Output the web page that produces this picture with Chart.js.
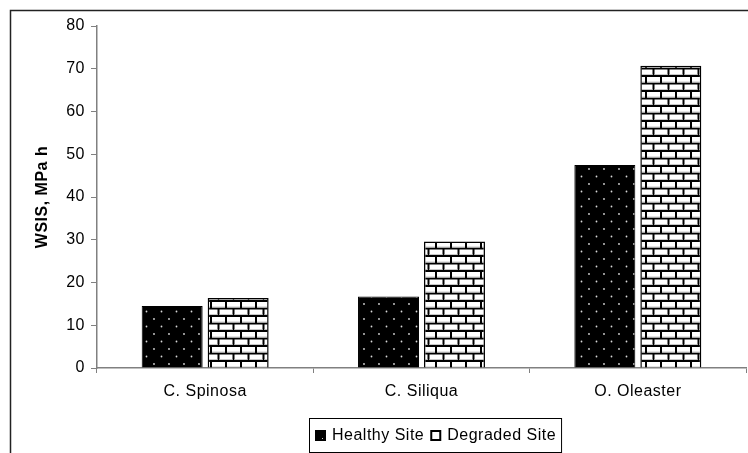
<!DOCTYPE html>
<html>
<head>
<meta charset="utf-8">
<script src="https://cdn.jsdelivr.net/npm/chart.js@4"></script>
<style>
  html, body { margin: 0; padding: 0; background: #fff; }
  #wrap { position: relative; width: 748px; height: 453px; }
</style>
</head>
<body>
<div id="wrap"><canvas id="c" width="748" height="453"></canvas></div>
<script>
const categories = ['C. Spinosa', 'C. Siliqua', 'O. Oleaster'];
const seriesNames = ['Healthy Site', 'Degraded Site'];
const healthy = [14.5, 16.7, 47.5];
const degraded = [16.4, 29.6, 70.7];
const yTicks = [0, 10, 20, 30, 40, 50, 60, 70, 80];
const yTitle = 'WSIS, MPa h';

const FONT = '"Liberation Sans", Arial, sans-serif';
const SPACING = '0.5px';

function dotPattern() {
  const c = document.createElement('canvas');
  c.width = 15; c.height = 15;
  const g = c.getContext('2d');
  g.fillStyle = '#000'; g.fillRect(0, 0, 15, 15);
  g.fillStyle = '#d8d8d8';
  g.beginPath(); g.arc(4, 4, 0.9, 0, Math.PI * 2); g.fill();
  g.beginPath(); g.arc(11.5, 11.5, 0.9, 0, Math.PI * 2); g.fill();
  return document.getElementById('c').getContext('2d').createPattern(c, 'repeat');
}
function brickPattern() {
  const c = document.createElement('canvas');
  c.width = 15; c.height = 15;
  const g = c.getContext('2d');
  g.fillStyle = '#000'; g.fillRect(0, 0, 15, 15);
  const brick = (x, y) => {
    g.fillStyle = '#fff'; g.fillRect(x, y, 13, 5.5);
    g.fillStyle = '#c8c8c8'; g.fillRect(x, y + 4.5, 13, 1);
  };
  brick(2, 2);
  brick(-5.5, 9.5);
  brick(9.5, 9.5);
  return document.getElementById('c').getContext('2d').createPattern(c, 'repeat');
}

const framePlugin = {
  id: 'frame',
  beforeDraw(chart) {
    const ctx = chart.ctx;
    ctx.letterSpacing = SPACING;
    ctx.save();
    ctx.strokeStyle = '#222';
    ctx.lineWidth = 1.5;
    ctx.beginPath();
    ctx.moveTo(10.5, 460);
    ctx.lineTo(10.5, 10.5);
    ctx.lineTo(760, 10.5);
    ctx.stroke();
    ctx.restore();
  }
};

const legendPlugin = {
  id: 'boxLegend',
  afterDraw(chart) {
    const ctx = chart.ctx;
    ctx.save();
    ctx.letterSpacing = SPACING;
    ctx.font = '16px ' + FONT;
    ctx.textBaseline = 'middle';
    const left = 309, top = 418, h = 34;
    const cy = top + h / 2;
    let x = left + 6;
    const items = chart.data.datasets.map(d => d.label);
    const widths = items.map(t => ctx.measureText(t).width);
    const total = 6 + items.length * (11 + 6) + widths.reduce((a, b) => a + b, 0) + (items.length - 1) * 6 + 5;
    ctx.fillStyle = '#fff';
    ctx.fillRect(left, top, total, h);
    ctx.strokeStyle = '#000';
    ctx.lineWidth = 1;
    ctx.strokeRect(left + 0.5, top + 0.5, total, h);
    items.forEach((t, i) => {
      if (i === 0) {
        ctx.fillStyle = '#000';
        ctx.fillRect(x, cy - 5, 11, 11);
        ctx.fillStyle = '#ccc';
        ctx.fillRect(x + 7, cy + 3, 1, 1);
      } else {
        ctx.fillStyle = '#fff';
        ctx.fillRect(x, cy - 5, 11, 11);
        ctx.strokeStyle = '#000';
        ctx.lineWidth = 2;
        ctx.strokeRect(x + 1, cy - 4, 9, 9);
      }
      x += 11 + 6;
      ctx.fillStyle = '#000';
      ctx.fillText(t, x, cy + 1);
      x += widths[i] + 6;
    });
    ctx.restore();
  }
};

new Chart(document.getElementById('c'), {
  type: 'bar',
  data: {
    labels: categories,
    datasets: [
      {
        label: seriesNames[0],
        data: healthy,
        backgroundColor: dotPattern(),
        borderColor: '#000',
        borderWidth: 1
      },
      {
        label: seriesNames[1],
        data: degraded,
        backgroundColor: brickPattern(),
        borderColor: '#000',
        borderWidth: 1.5
      }
    ]
  },
  options: {
    responsive: false,
    animation: false,
    devicePixelRatio: 1,
    layout: { padding: { top: 26, left: 14, right: 2, bottom: 0 } },
    datasets: { bar: { categoryPercentage: 0.61, barPercentage: 0.924 } },
    plugins: {
      legend: { display: false },
      tooltip: { enabled: false }
    },
    scales: {
      x: {
        grid: { display: true, drawOnChartArea: false, drawTicks: true, tickLength: 5, color: '#808080', offset: true },
        border: { color: '#808080', width: 1.5 },
        ticks: { color: '#000', font: { family: FONT, size: 16 }, padding: 9 },
        afterFit(s) { s.height = 85; }
      },
      y: {
        min: 0, max: 80,
        afterBuildTicks(s) { s.ticks = yTicks.map(v => ({ value: v })); },
        grid: { display: true, drawOnChartArea: false, drawTicks: true, tickLength: 6, color: '#808080' },
        border: { color: '#808080', width: 1.5 },
        ticks: { color: '#000', font: { family: FONT, size: 16 }, padding: 6 },
        title: { display: true, text: yTitle, color: '#000', font: { family: FONT, size: 16, weight: 'bold' }, padding: { top: 19, bottom: 0 } },
        afterFit(s) { s.width = 83; }
      }
    }
  },
  plugins: [framePlugin, legendPlugin]
});
</script>
</body>
</html>
